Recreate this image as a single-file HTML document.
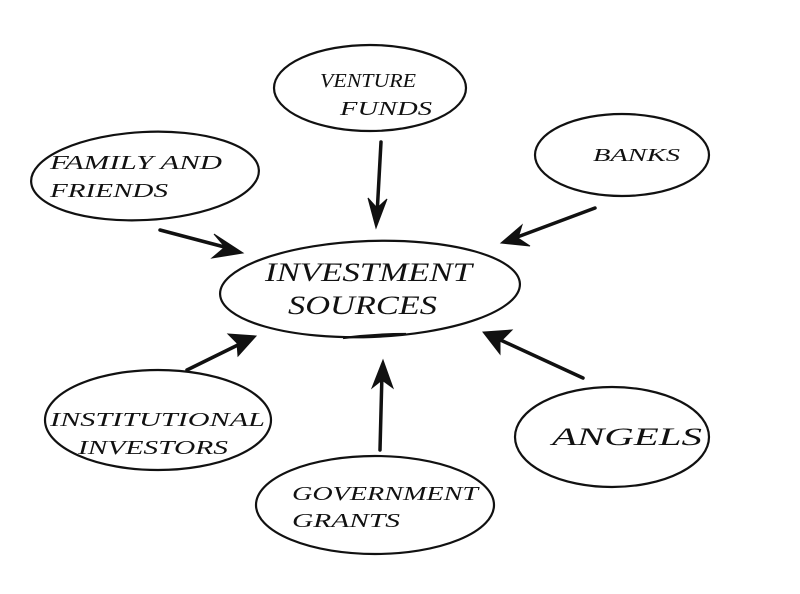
<!DOCTYPE html>
<html><head><meta charset="utf-8"><style>
html,body{margin:0;padding:0;background:#fff;}
svg{display:block}
text{font-family:"Liberation Serif",serif;font-style:italic;fill:#111}
</style></head><body>
<svg width="800" height="594" viewBox="0 0 800 594" xmlns="http://www.w3.org/2000/svg">
<g fill="none" stroke="#111" stroke-width="2.2">
<ellipse cx="370" cy="88" rx="96" ry="43"/>
<ellipse cx="622" cy="155" rx="87" ry="41"/>
<ellipse cx="145" cy="176" rx="114" ry="44" transform="rotate(-3 145 176)"/>
<ellipse cx="370" cy="289" rx="150" ry="48" transform="rotate(-2 370 289)"/>
<path d="M343 338 Q375 334 406 334" />
<ellipse cx="158" cy="420" rx="113" ry="50"/>
<ellipse cx="612" cy="437" rx="97" ry="50"/>
<ellipse cx="375" cy="505" rx="119" ry="49"/>
</g>
<g stroke="#111" stroke-width="3.5" fill="#111" stroke-linecap="round">
<line x1="381" y1="142" x2="377" y2="215"/>
<polygon points="368,198 376,228 387,199 377,208" stroke-width="1"/>
<line x1="160" y1="230" x2="232" y2="249"/>
<polygon points="214,234 243,253 212,258 225,247" stroke-width="1"/>
<line x1="595" y1="208" x2="512" y2="239"/>
<polygon points="522,225 501,243 530,246 518,238" stroke-width="1"/>
<line x1="187" y1="370" x2="246" y2="341"/>
<polygon points="228,334 256,336 238,356 237,343" stroke-width="1"/>
<line x1="380" y1="450" x2="382" y2="373"/>
<polygon points="372,388 383,360 393,388 382,380" stroke-width="1"/>
<line x1="583" y1="378" x2="494" y2="337"/>
<polygon points="512,330 483,332 500,354 500,342" stroke-width="1"/>
</g>
<text x="320" y="87" font-size="20" textLength="96" lengthAdjust="spacingAndGlyphs">VENTURE</text>
<text x="340" y="115" font-size="20" textLength="92" lengthAdjust="spacingAndGlyphs">FUNDS</text>
<text x="593" y="161" font-size="18" textLength="87" lengthAdjust="spacingAndGlyphs">BANKS</text>
<text x="50" y="169" font-size="20" textLength="172" lengthAdjust="spacingAndGlyphs">FAMILY AND</text>
<text x="50" y="197" font-size="20" textLength="118" lengthAdjust="spacingAndGlyphs">FRIENDS</text>
<text x="265" y="281" font-size="26" textLength="207" lengthAdjust="spacingAndGlyphs">INVESTMENT</text>
<text x="288" y="314" font-size="26" textLength="149" lengthAdjust="spacingAndGlyphs">SOURCES</text>
<text x="50" y="426" font-size="20" textLength="215" lengthAdjust="spacingAndGlyphs">INSTITUTIONAL</text>
<text x="78" y="454" font-size="20" textLength="150" lengthAdjust="spacingAndGlyphs">INVESTORS</text>
<text x="552" y="445" font-size="25" textLength="150" lengthAdjust="spacingAndGlyphs">ANGELS</text>
<text x="292" y="500" font-size="20" textLength="186" lengthAdjust="spacingAndGlyphs">GOVERNMENT</text>
<text x="292" y="527" font-size="20" textLength="108" lengthAdjust="spacingAndGlyphs">GRANTS</text>
</svg>
</body></html>
